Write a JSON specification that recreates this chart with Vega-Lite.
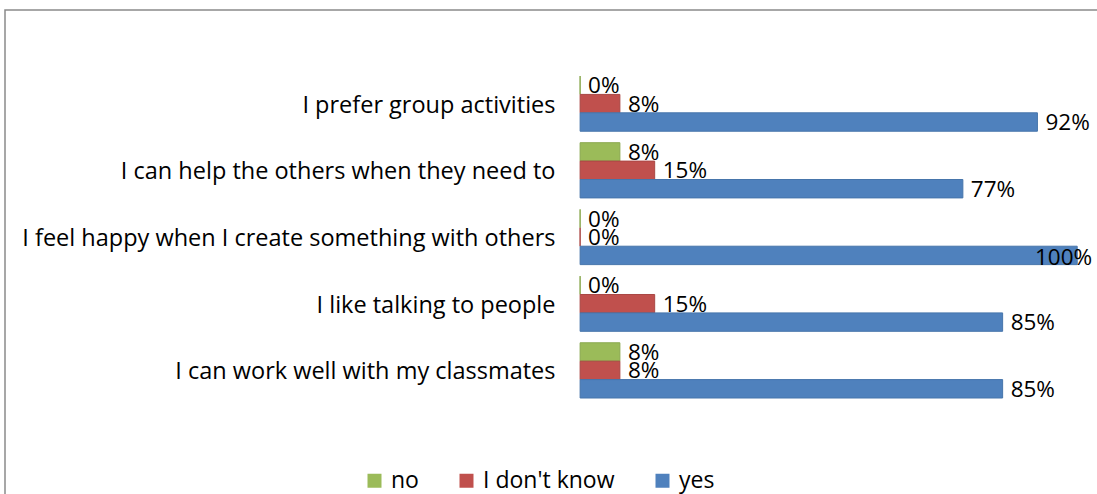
{
  "$schema": "https://vega.github.io/schema/vega-lite/v6.json",
  "autosize": {"type": "none"},
  "padding": {"left": 5, "top": 10, "right": 0, "bottom": 0},
  "width": 1105,
  "height": 495,
  "background": "white",
  "config": {
    "view": {"stroke": "#8a8a8a", "strokeWidth": 1.5},
    "font": "Open Sans",
    "axis": {"grid": false}
  },
  "data": {
    "values": [
      {"item": "I prefer group activities", "answer": "no", "value": 0},
      {"item": "I prefer group activities", "answer": "I don't know", "value": 0.08},
      {"item": "I prefer group activities", "answer": "yes", "value": 0.92},
      {"item": "I can help the others when they need to", "answer": "no", "value": 0.08},
      {"item": "I can help the others when they need to", "answer": "I don't know", "value": 0.15},
      {"item": "I can help the others when they need to", "answer": "yes", "value": 0.77},
      {"item": "I feel happy when I create something with others", "answer": "no", "value": 0},
      {"item": "I feel happy when I create something with others", "answer": "I don't know", "value": 0},
      {"item": "I feel happy when I create something with others", "answer": "yes", "value": 1.0},
      {"item": "I like talking to people", "answer": "no", "value": 0},
      {"item": "I like talking to people", "answer": "I don't know", "value": 0.15},
      {"item": "I like talking to people", "answer": "yes", "value": 0.85},
      {"item": "I can work well with my classmates", "answer": "no", "value": 0.08},
      {"item": "I can work well with my classmates", "answer": "I don't know", "value": 0.08},
      {"item": "I can work well with my classmates", "answer": "yes", "value": 0.85}
    ]
  },
  "encoding": {
    "y": {
      "field": "item",
      "type": "nominal",
      "sort": null,
      "scale": {"range": [66, 388], "paddingInner": 0.172, "paddingOuter": 0},
      "axis": {
        "title": null,
        "offset": -550,
        "ticks": false,
        "domain": false,
        "labelPadding": 0,
        "labelOffset": 2,
        "labelFontSize": 23.5,
        "labelColor": "#000000",
        "labelFont": "Open Sans",
        "labelLimit": 700
      }
    },
    "yOffset": {
      "field": "answer",
      "type": "nominal",
      "sort": ["no", "I don't know", "yes"],
      "scale": {"domain": ["no", "I don't know", "yes"], "paddingInner": 0, "paddingOuter": 0}
    },
    "x": {
      "field": "value",
      "type": "quantitative",
      "stack": null,
      "scale": {"domain": [-1.157, 1.066], "nice": false, "zero": false},
      "axis": null
    }
  },
  "layer": [
    {
      "mark": {"type": "bar", "strokeWidth": 1},
      "encoding": {
        "color": {
          "field": "answer",
          "type": "nominal",
          "scale": {"domain": ["no", "I don't know", "yes"], "range": ["#9BBB59", "#C0504D", "#4F81BD"]},
          "legend": {
            "title": null,
            "orient": "none",
            "legendX": 358,
            "legendY": 459,
            "direction": "horizontal",
            "symbolType": "square",
            "symbolSize": 196,
            "symbolStrokeWidth": 0,
            "labelFontSize": 23,
            "labelFont": "Open Sans",
            "labelColor": "#000000",
            "labelOffset": 5,
            "columnPadding": 36
          }
        },
        "stroke": {
          "field": "answer",
          "type": "nominal",
          "scale": {"domain": ["no", "I don't know", "yes"], "range": ["#8aa84f", "#a94744", "#4675ab"]},
          "legend": null
        }
      }
    },
    {
      "transform": [{"filter": "datum.value < 1"}],
      "mark": {"type": "text", "align": "left", "baseline": "middle", "dx": 8, "dy": 1, "fontSize": 22.5, "font": "Open Sans", "color": "#000000"},
      "encoding": {
        "text": {"field": "value", "type": "quantitative", "format": ".0%"}
      }
    },
    {
      "transform": [{"filter": "datum.value >= 1"}],
      "mark": {"type": "text", "align": "right", "baseline": "middle", "dx": 15, "dy": 3, "fontSize": 22.5, "font": "Open Sans", "color": "#000000"},
      "encoding": {
        "text": {"field": "value", "type": "quantitative", "format": ".0%"}
      }
    }
  ]
}
